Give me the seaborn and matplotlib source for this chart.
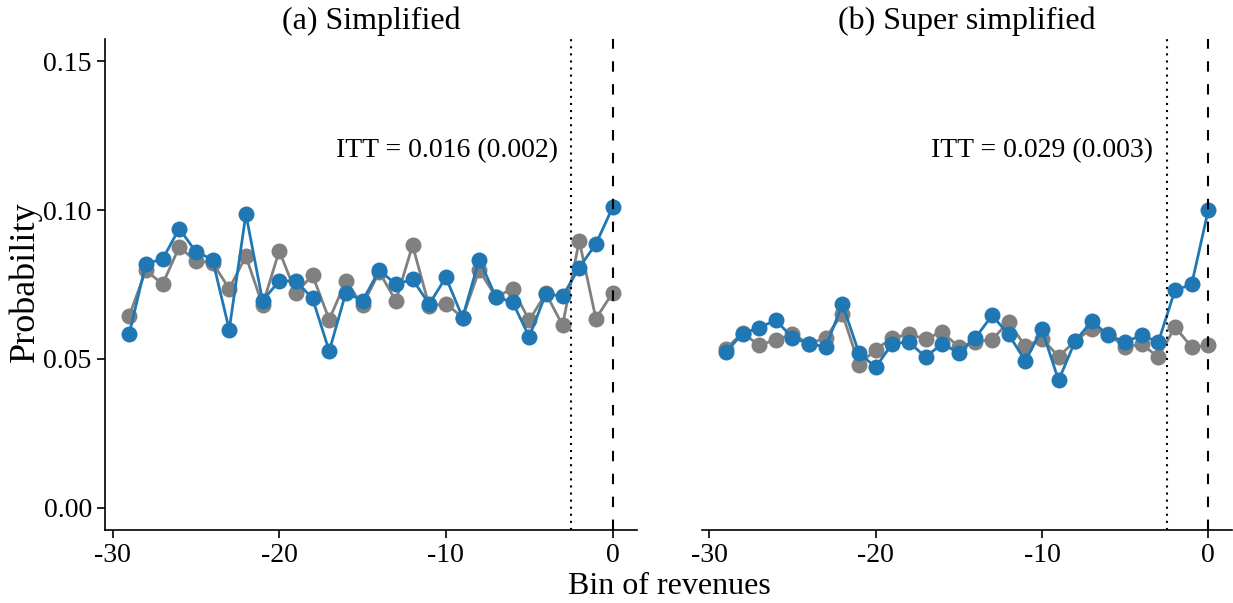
import numpy as np
import pandas as pd
import matplotlib
matplotlib.use("Agg")
import matplotlib.pyplot as plt
import seaborn as sns

# ── data ───────────────────────────────────────────────────────────────────
bins = list(range(-29, 1))

simp_grey = [0.0645, 0.0798, 0.0751, 0.0876, 0.0829, 0.0823, 0.0736, 0.0845, 0.0680, 0.0863,
             0.0722, 0.0781, 0.0632, 0.0762, 0.0680, 0.0792, 0.0695, 0.0882, 0.0677, 0.0686,
             0.0639, 0.0798, 0.0708, 0.0736, 0.0630, 0.0720, 0.0613, 0.0897, 0.0635, 0.0722]
simp_blue = [0.0584, 0.0820, 0.0835, 0.0938, 0.0860, 0.0834, 0.0598, 0.0987, 0.0695, 0.0762,
             0.0762, 0.0703, 0.0526, 0.0723, 0.0695, 0.0798, 0.0751, 0.0767, 0.0684, 0.0774,
             0.0639, 0.0834, 0.0708, 0.0691, 0.0574, 0.0719, 0.0710, 0.0807, 0.0886, 0.1009]

super_grey = [0.0534, 0.0588, 0.0545, 0.0565, 0.0582, 0.0551, 0.0571, 0.0652, 0.0481, 0.0531,
              0.0571, 0.0582, 0.0568, 0.0590, 0.0540, 0.0557, 0.0565, 0.0624, 0.0542, 0.0568,
              0.0508, 0.0560, 0.0602, 0.0582, 0.0540, 0.0549, 0.0506, 0.0607, 0.0540, 0.0545]
super_blue = [0.0523, 0.0585, 0.0605, 0.0630, 0.0571, 0.0551, 0.0540, 0.0684, 0.0520, 0.0472,
              0.0551, 0.0557, 0.0506, 0.0551, 0.0520, 0.0571, 0.0646, 0.0582, 0.0493, 0.0599,
              0.0428, 0.0560, 0.0627, 0.0579, 0.0557, 0.0579, 0.0557, 0.0731, 0.0750, 0.1000]

titles = ["(a) Simplified", "(b) Super simplified"]
itt_labels = ["ITT = 0.016 (0.002)", "ITT = 0.029 (0.003)"]
xticks = [-30, -20, -10, 0]
yticks = [0.00, 0.05, 0.10, 0.15]

GREY = '#808080'
BLUE = '#1f77b4'

sns.set_theme(style="ticks")
plt.rcParams['font.family'] = ['Liberation Serif', 'DejaVu Serif']
plt.rcParams['axes.unicode_minus'] = False
for k in ['text.color', 'axes.labelcolor', 'xtick.color', 'ytick.color', 'axes.edgecolor']:
    plt.rcParams[k] = 'black'

fig = plt.figure(figsize=(12.33, 6.03), dpi=100)
ax1 = fig.add_axes([0.0852, 0.1211, 0.4312, 0.8142])
ax2 = fig.add_axes([0.5692, 0.1211, 0.4303, 0.8142])

panels = [(ax1, simp_grey, simp_blue), (ax2, super_grey, super_blue)]
for i, (ax, grey, blue) in enumerate(panels):
    df = pd.DataFrame({'bin': bins, 'grey': grey, 'blue': blue})
    sns.lineplot(data=df, x='bin', y='grey', ax=ax, color=GREY, lw=2,
                 marker='o', markersize=11.5, markeredgewidth=0)
    sns.lineplot(data=df, x='bin', y='blue', ax=ax, color=BLUE, lw=2,
                 marker='o', markersize=11.5, markeredgewidth=0)
    ax.axvline(-2.5, color='black', lw=1.5, ls=(0, (1, 2.4)))
    ax.axvline(0, color='black', lw=1.5, ls=(0, (5, 6)))
    ax.text(-3.3, 0.12, itt_labels[i], ha='right', va='center', fontsize=20)
    ax.set_title(titles[i], fontsize=23, pad=7)
    ax.set_xlim(-30.45, 1.45)
    ax.set_ylim(-0.0075, 0.1575)
    ax.set_xticks(xticks)
    ax.set_xticklabels([str(t) for t in xticks], fontsize=20)
    ax.set_xlabel('')
    ax.set_ylabel('')
    ax.tick_params(axis='both', length=6, width=1.2, color='black')
    for s in ['left', 'bottom']:
        ax.spines[s].set_linewidth(1.2)
    sns.despine(ax=ax)

ax1.set_yticks(yticks)
ax1.set_yticklabels([f'{t:.2f}' for t in yticks], fontsize=20)
ax2.set_yticks([])
ax2.spines['left'].set_visible(False)

fig.text(25 / 1233, 1 - 282 / 603, 'Probability', rotation=90, ha='center', va='center', fontsize=26)
fig.text(669 / 1233, 0.028, 'Bin of revenues', ha='center', va='center', fontsize=23)

fig.savefig('out.png', dpi=100)
